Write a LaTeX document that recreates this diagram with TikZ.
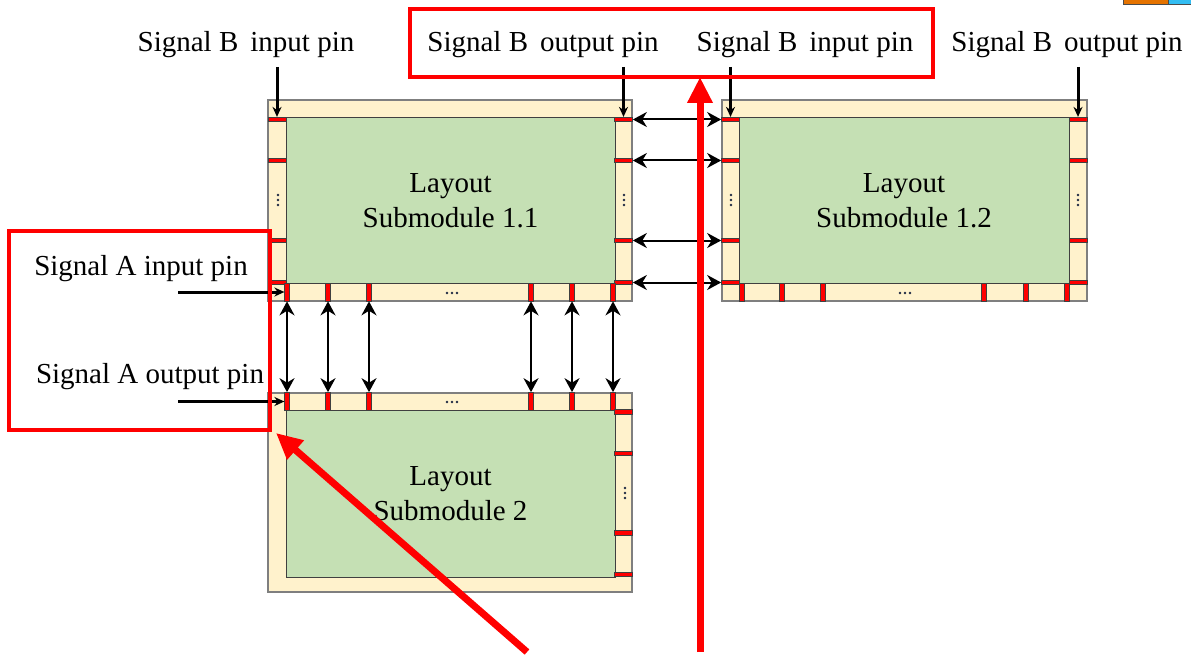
\documentclass[tikz,border=0pt]{standalone}
\usepackage{fontspec}
\setmainfont{Liberation Serif}
\usetikzlibrary{arrows.meta}
\definecolor{padfill}{HTML}{FFF2CC}
\definecolor{corefill}{HTML}{C5E0B4}
\definecolor{pinred}{HTML}{FF0000}
\definecolor{framegray}{HTML}{7F7F7F}
\definecolor{dotblue}{HTML}{1F2A44}

\begin{document}
\begin{tikzpicture}[x=1pt, y=-1pt,
        frame/.style={rectangle, draw=framegray, fill=padfill, line width=1.3pt, inner sep=0pt},
        core/.style={rectangle, draw=black!75, fill=corefill, line width=1pt, inner sep=0pt, align=center, font=\fontsize{29}{35}\selectfont},
        hpin/.style={rectangle, draw=black!75, fill=pinred, line width=0.7pt, inner sep=0pt, minimum width=18pt, minimum height=4.5pt},
        vpin/.style={rectangle, draw=black!75, fill=pinred, line width=0.7pt, inner sep=0pt, minimum width=4.5pt, minimum height=18pt},
        lbl/.style={inner sep=0pt, anchor=base, font=\fontsize{29}{30}\selectfont},
        line/.style={draw, line width=3pt, -{Stealth[length=10pt, width=9pt]}},
        link/.style={draw, line width=2pt, {Stealth[length=14pt, width=15pt]}-{Stealth[length=14pt, width=15pt]}},
        callout/.style={draw=pinred, line width=4pt},
        pointer/.style={draw=pinred, line width=7pt, -{Triangle[length=26pt, width=24pt]}}
    ]
        \useasboundingbox (0,0) rectangle (1191,655);

        % Submodule 1.1
        \node[frame, minimum width=364pt, minimum height=201pt] (f11) at (450,200.5) {};
        \node[core, minimum width=329pt, minimum height=165pt] (c11) at (450.5,200.5) {Layout\\Submodule 1.1};
        \foreach \y [count=\i] in {119.5,160.5,240.5,282.5} {
            \node[hpin] (l11-\i) at (277,\y) {};
            \node[hpin] (r11-\i) at (623.5,\y) {};
        }
        \foreach \x [count=\i] in {287,328,369,531,572,613}
            \node[vpin] (b11-\i) at (\x,292) {};
        \foreach \x/\y in {278/200, 624/200} \foreach \d in {-5,0,5}
            \fill[dotblue] (\x,\y+\d) circle (1.3pt);
        \foreach \d in {-5,0,5}
            \fill[dotblue] (452+\d,293) circle (1.3pt);

        % Submodule 1.2
        \node[frame, minimum width=365pt, minimum height=201pt] (f12) at (904.5,200.5) {};
        \node[core, minimum width=330pt, minimum height=165pt] (c12) at (904,200.5) {Layout\\Submodule 1.2};
        \foreach \y [count=\i] in {119.5,160.5,240.5,282.5} {
            \node[hpin] (l12-\i) at (730.5,\y) {};
            \node[hpin] (r12-\i) at (1078,\y) {};
        }
        \foreach \x [count=\i] in {742,782,823,984,1026,1067}
            \node[vpin] (b12-\i) at (\x,292) {};
        \foreach \x/\y in {731/200, 1078/200} \foreach \d in {-5,0,5}
            \fill[dotblue] (\x,\y+\d) circle (1.3pt);
        \foreach \d in {-5,0,5}
            \fill[dotblue] (905+\d,293) circle (1.3pt);

        % Submodule 2
        \node[frame, minimum width=364pt, minimum height=199pt] (f2) at (450,492.5) {};
        \node[core, minimum width=329pt, minimum height=167pt] (c2) at (450.5,493.5) {Layout\\Submodule 2};
        \foreach \x [count=\i] in {287,328,369,531,572,613}
            \node[vpin] (t2-\i) at (\x,401.5) {};
        \foreach \y [count=\i] in {412,453.5,533,574.5}
            \node[hpin] (r2-\i) at (623.5,\y) {};
        \foreach \d in {-5,0,5} {
            \fill[dotblue] (625,493+\d) circle (1.3pt);
            \fill[dotblue] (452+\d,402) circle (1.3pt);
        }

        % links between submodules
        \foreach \i in {1,...,4}
            \draw[link] (r11-\i) -- (l12-\i);
        \foreach \i in {1,...,6}
            \draw[link] (b11-\i) -- (t2-\i);

        % pin labels
        \node[lbl] (sbin1) at (246,52) {Signal B\, input pin};
        \node[lbl] (sbout1) at (543,52) {Signal B\, output pin};
        \node[lbl] (sbin2) at (805,52) {Signal B\, input pin};
        \node[lbl] (sbout2) at (1067,52) {Signal B\, output pin};
        \node[lbl] (sain) at (141,275) {Signal A input pin};
        \node[lbl] (saout) at (150,383) {Signal A output pin};

        \coordinate (sbin1e) at (277,67);
        \coordinate (sbout1e) at (623.5,67);
        \coordinate (sbin2e) at (730.5,67);
        \coordinate (sbout2e) at (1078,67);
        \coordinate (saine) at (178,292);
        \coordinate (saoute) at (178,401.5);

        \draw[line] (sbin1e) -- (l11-1);
        \draw[line] (sbout1e) -- (r11-1);
        \draw[line] (sbin2e) -- (l12-1);
        \draw[line] (sbout2e) -- (r12-1);
        \draw[line] (saine) -- (b11-1);
        \draw[line] (saoute) -- (t2-1);

        % red marks
        \draw[callout] (9,231) rectangle (270,430);
        \draw[callout] (410,9) rectangle (933,77);
        \coordinate (ptra) at (527,652);
        \coordinate (ptrb) at (700,652);
        \draw[pointer] (ptra) -- (276,433);
        \draw[pointer] (ptrb) -- (700,77);

        % corner of the next figure
        \fill[orange!90!black, draw=black!70, line width=0.8pt] (1123,-2) rectangle (1168,4);
        \fill[cyan!80, draw=black!70, line width=0.8pt] (1168,-2) rectangle (1193,4);
    \end{tikzpicture}
\end{document}
